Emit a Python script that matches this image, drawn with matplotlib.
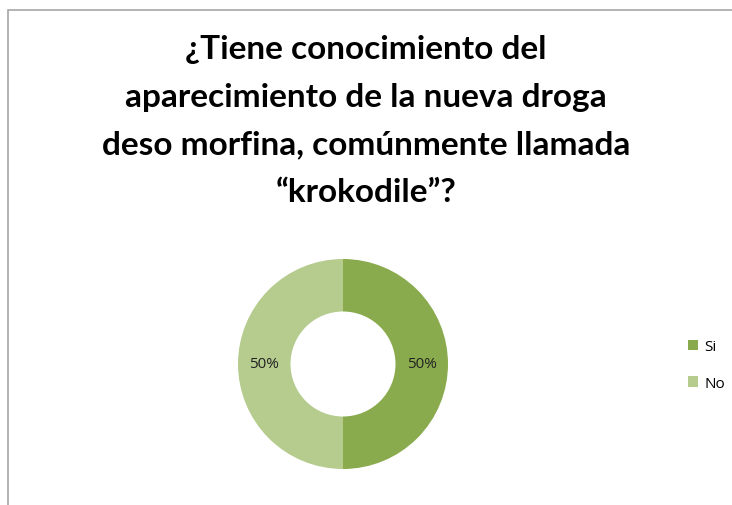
import matplotlib
matplotlib.use("Agg")
import matplotlib.pyplot as plt
from matplotlib.patches import Rectangle
import numpy as np

categories = ["Si", "No"]
values = [50, 50]
colors = ["#8aab4d", "#b5cc8e"]
title = "¿Tiene conocimiento del\naparecimiento de la nueva droga\ndeso morfina, comúnmente llamada\n“krokodile”?"

fig = plt.figure(figsize=(7.32, 5.06), dpi=100)
fig.patch.set_facecolor("white")

# border frame
fig.add_artist(Rectangle((8/732, -0.01), 1.0, 1 - 11/506 + 0.01, transform=fig.transFigure,
                         fill=False, edgecolor="#a6a6a6", linewidth=1.2))

fig.text(366/732, 1 - 121/506, title, ha="center", va="center", fontsize=24,
         fontfamily="Lato", fontweight="bold", linespacing=1.78, color="#000000")

ax = fig.add_axes([(343-105)/732, (506-470)/506, 210/732, 210/506])
wedges, texts = ax.pie(values, colors=colors, startangle=90, counterclock=False,
                       wedgeprops=dict(width=0.5, edgecolor="none"))
ax.set_xlim(-1, 1)
ax.set_ylim(-1, 1)
ax.set_aspect("equal")
for w, v in zip(wedges, values):
    ang = np.deg2rad((w.theta1 + w.theta2) / 2)
    r = 0.75
    ax.text(r*np.cos(ang), r*np.sin(ang), f"{v}%", ha="center", va="center",
            fontsize=11, fontfamily="Open Sans", color="#222222")

leg = fig.legend(wedges, categories, loc="center left", bbox_to_anchor=(674/732, 1 - 366/506),
                 frameon=False, handlelength=0.7, handleheight=0.7,
                 labelspacing=1.4, handletextpad=0.4, prop=dict(family="Open Sans", size=11))

fig.savefig("out.png", dpi=100)
